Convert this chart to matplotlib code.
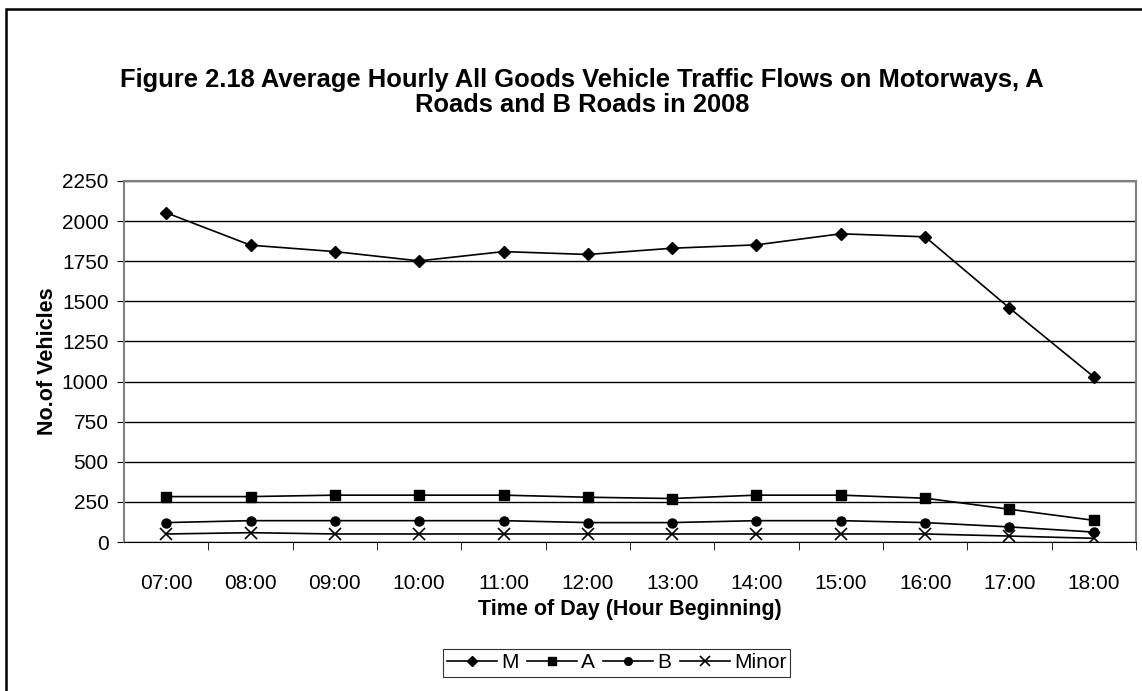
import matplotlib
matplotlib.use("Agg")
import matplotlib.pyplot as plt
from matplotlib.patches import Rectangle

hours = ["07:00", "08:00", "09:00", "10:00", "11:00", "12:00",
         "13:00", "14:00", "15:00", "16:00", "17:00", "18:00"]
m_vals = [2052, 1850, 1810, 1752, 1810, 1792, 1831, 1852, 1921, 1902, 1458, 1029]
a_vals = [283, 283, 292, 292, 292, 279, 271, 292, 292, 273, 204, 135]
b_vals = [121, 133, 133, 133, 133, 121, 121, 133, 133, 121, 94, 62]
minor_vals = [50, 58, 50, 50, 50, 50, 50, 50, 50, 50, 37, 23]
yticks = [0, 250, 500, 750, 1000, 1250, 1500, 1750, 2000, 2250]

plt.rcParams["font.family"] = ["Liberation Sans", "DejaVu Sans"]

W, H = 1142, 691
fig = plt.figure(figsize=(W / 100, H / 100), dpi=100)
fig.patch.set_facecolor("white")

# outer chart frame (right/bottom edges fall outside the image)
fig.add_artist(Rectangle((6 / W, -0.05), 1.2, 1 - 9 / H + 0.05,
                         transform=fig.transFigure, fill=False,
                         edgecolor="black", linewidth=1.8))

left, right, top, bottom = 124, 1136, 181, 542
ax = fig.add_axes([left / W, 1 - bottom / H, (right - left) / W, (bottom - top) / H])

x = list(range(len(hours)))
ax.plot(x, m_vals, color="black", lw=1.2, marker="D", ms=6.5, label="M")
ax.plot(x, a_vals, color="black", lw=1.2, marker="s", ms=6.5, label="A")
ax.plot(x, b_vals, color="black", lw=1.2, marker="o", ms=6.5, label="B")
ax.plot(x, minor_vals, color="black", lw=1.2, marker="x", ms=9, mew=1.2, label="Minor")

ax.set_xlim(-0.5, len(hours) - 0.5)
ax.set_ylim(0, 2250)
ax.set_yticks(yticks)
ax.set_yticklabels([str(v) for v in yticks], fontsize=15)
ax.set_xticks(x)
ax.set_xticklabels(hours, fontsize=15)
ax.tick_params(axis="x", length=0, pad=23)
ax.set_xticks([i - 0.5 for i in range(1, len(hours) + 1)], minor=True)
ax.tick_params(axis="x", which="minor", length=6, direction="out", color="black")
ax.tick_params(axis="y", length=5, direction="out", pad=6)

ax.grid(axis="y", color="black", lw=1.0)
ax.set_axisbelow(True)
for side in ["top", "right", "left"]:
    ax.spines[side].set_color("#808080")
    ax.spines[side].set_linewidth(1.5)
ax.spines["bottom"].set_color("black")

ax.set_xlabel("Time of Day (Hour Beginning)", fontsize=15.5, fontweight="bold", labelpad=4)
ax.set_ylabel("No.of Vehicles", fontsize=15.5, fontweight="bold", labelpad=3)

fig.text(582 / W, 1 - 92.5 / H,
         "Figure 2.18 Average Hourly All Goods Vehicle Traffic Flows on Motorways, A\nRoads and B Roads in 2008",
         ha="center", va="center", fontsize=18.4, fontweight="bold", linespacing=1.05)

leg = fig.legend(loc="center", bbox_to_anchor=(616.5 / W, 1 - 663 / H), ncol=4,
                 fontsize=15, frameon=True, fancybox=False, edgecolor="black",
                 handlelength=2.4, handletextpad=0.2, columnspacing=0.4,
                 borderpad=0.2, borderaxespad=0, markerscale=0.85)
leg.get_frame().set_linewidth(0.8)

fig.savefig("out.png", dpi=100)
